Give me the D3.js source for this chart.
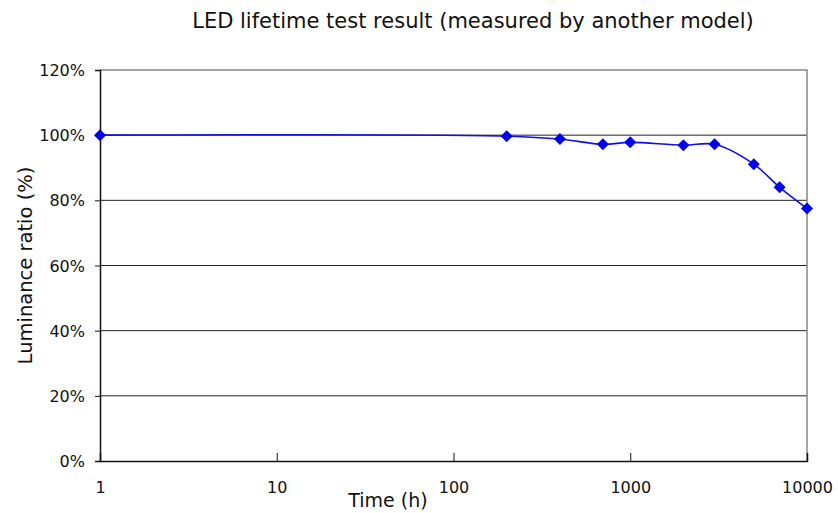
<!DOCTYPE html>
<html>
<head>
<meta charset="utf-8">
<script src="https://cdn.jsdelivr.net/npm/d3@7"></script>
<style>
  body { margin: 0; background: #fff; }
  text { font-family: "DejaVu Sans", sans-serif; fill: #111; }
</style>
</head>
<body>
<div id="chart"></div>
<script>
// data
const hours = [1, 200, 400, 700, 1000, 2000, 3000, 5000, 7000, 10000];
const ratio = [100, 99.7, 98.8, 97.2, 97.8, 96.9, 97.2, 91.1, 84.0, 77.5];
const xTicks = [1, 10, 100, 1000, 10000];
const yTicks = [0, 20, 40, 60, 80, 100, 120];

const W = 838, H = 513;
const margin = {top: 70, right: 31, bottom: 52, left: 100};
const width = W - margin.left - margin.right;
const height = H - margin.top - margin.bottom;

const svg = d3.select("#chart").append("svg")
    .attr("width", W).attr("height", H);

const g = svg.append("g")
    .attr("transform", "translate(" + margin.left + "," + margin.top + ")");

const x = d3.scaleLog().domain([1, 10000]).range([0, width]);
const y = d3.scaleLinear().domain([0, 120]).range([height, 0]);

// horizontal gridlines
g.selectAll(".grid")
    .data(yTicks.filter(d => d > 0 && d < 120))
    .enter().append("line")
    .attr("x1", 0).attr("x2", width)
    .attr("y1", d => y(d)).attr("y2", d => y(d))
    .attr("stroke", "#222").attr("stroke-width", 1);

// gray top and right border
g.append("path")
    .attr("d", "M0," + y(120) + "H" + width + "V" + height)
    .attr("fill", "none").attr("stroke", "#888").attr("stroke-width", 1.5);

// y axis
const yAxis = g.append("g")
    .call(d3.axisLeft(y).tickValues(yTicks).tickSize(5).tickPadding(10)
        .tickFormat(d => d + "%"));
yAxis.select(".domain").attr("stroke", "#111").attr("stroke-width", 1.5);
yAxis.selectAll(".tick line").attr("stroke", "#111");
yAxis.selectAll("text").style("font-size", "16px").attr("dy", "0.35em");

// x axis with ticks pointing into the plot
const xAxis = g.append("g")
    .attr("transform", "translate(0," + height + ")")
    .call(d3.axisBottom(x).tickValues(xTicks).tickSize(-8).tickPadding(21)
        .tickFormat(d3.format("d")));
xAxis.select(".domain").attr("stroke", "#111").attr("stroke-width", 1.5);
xAxis.selectAll(".tick line").attr("stroke", "#111");
xAxis.selectAll("text").style("font-size", "16px");

// line
const line = d3.line()
    .x((d, i) => x(hours[i]))
    .y(d => y(d))
    .curve(d3.curveCatmullRom.alpha(0.5));

g.append("path")
    .datum(ratio)
    .attr("fill", "none")
    .attr("stroke", "#1010e8")
    .attr("stroke-width", 1.6)
    .attr("d", line);

// diamond markers
g.selectAll(".pt")
    .data(ratio)
    .enter().append("path")
    .attr("transform", (d, i) => "translate(" + x(hours[i]) + "," + y(d) + ")")
    .attr("d", "M0,-6L6,0L0,6L-6,0Z")
    .attr("fill", "#0000ee");

// title
svg.append("text")
    .attr("x", 473).attr("y", 28)
    .attr("text-anchor", "middle")
    .style("font-size", "21px")
    .text("LED lifetime test result (measured by another model)");

// axis labels
svg.append("text")
    .attr("x", 388).attr("y", 507)
    .attr("text-anchor", "middle")
    .style("font-size", "19px")
    .text("Time (h)");

svg.append("text")
    .attr("transform", "translate(32," + (margin.top + height / 2) + ") rotate(-90)")
    .attr("text-anchor", "middle")
    .style("font-size", "19.5px")
    .text("Luminance ratio (%)");
</script>
</body>
</html>
